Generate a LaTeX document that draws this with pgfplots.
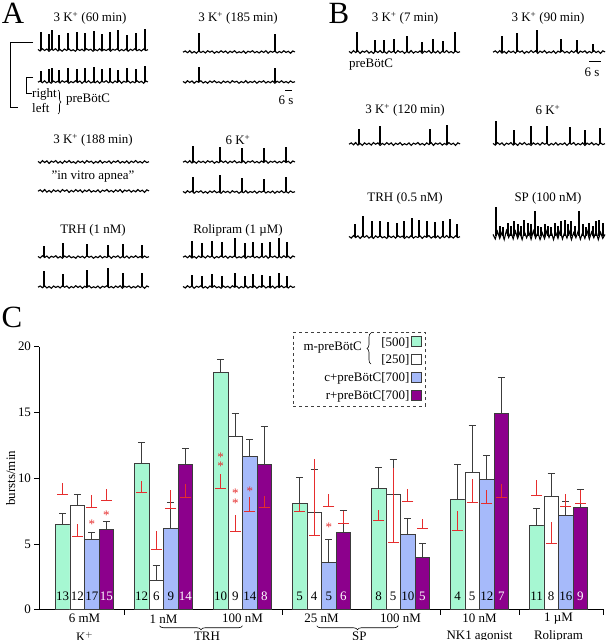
\documentclass[border=0pt]{standalone}
\usepackage{pgfplots}
\pgfplotsset{compat=1.18}
\usepackage{pgfplotstable}
\usepackage{fontspec}
\setmainfont{Liberation Serif}
\usetikzlibrary{decorations.pathreplacing}

\definecolor{cgreen}{RGB}{166,247,210}
\definecolor{cblue}{RGB}{166,186,250}
\definecolor{cpurple}{RGB}{140,0,140}
\definecolor{cred}{RGB}{230,45,45}
\definecolor{cedge}{RGB}{60,60,60}

\pgfplotstableread{
x y
0 0.02
0.02 -0.04
0.04 0.05
0.06 -0.02
0.08 0.04
0.10 -0.05
0.12 0.03
0.14 -0.01
0.16 0.05
0.18 -0.04
0.20 0.02
0.22 -0.05
0.24 0.04
0.26 -0.02
0.28 0.05
0.30 -0.03
0.32 0.01
0.34 -0.05
0.36 0.04
0.38 -0.02
0.40 0.03
0.42 -0.04
0.44 0.05
0.46 -0.01
0.48 0.03
0.50 -0.05
0.52 0.02
0.54 -0.03
0.56 0.05
0.58 -0.04
0.60 0.02
0.62 -0.02
0.64 0.04
0.66 -0.05
0.68 0.03
0.70 -0.01
0.72 0.05
0.74 -0.04
0.76 0.02
0.78 -0.03
0.80 0.04
0.82 -0.05
0.84 0.03
0.86 -0.02
0.88 0.05
0.90 -0.03
0.92 0.02
0.94 -0.04
0.96 0.04
0.98 -0.02
1.00 0.01
}\noiseA

\pgfplotstableread{
x y
0 -0.01
0.02 0.04
0.04 -0.03
0.06 0.05
0.08 -0.04
0.10 0.02
0.12 -0.05
0.14 0.04
0.16 -0.02
0.18 0.03
0.20 -0.04
0.22 0.05
0.24 -0.01
0.26 0.04
0.28 -0.05
0.30 0.02
0.32 -0.03
0.34 0.05
0.36 -0.02
0.38 0.04
0.40 -0.05
0.42 0.03
0.44 -0.02
0.46 0.05
0.48 -0.04
0.50 0.01
0.52 -0.03
0.54 0.04
0.56 -0.05
0.58 0.03
0.60 -0.01
0.62 0.05
0.64 -0.03
0.66 0.02
0.68 -0.04
0.70 0.04
0.72 -0.02
0.74 0.05
0.76 -0.05
0.78 0.03
0.80 -0.01
0.82 0.04
0.84 -0.04
0.86 0.02
0.88 -0.03
0.90 0.05
0.92 -0.02
0.94 0.03
0.96 -0.05
0.98 0.04
1.00 0.00
}\noiseB

\pgfplotstableread{
x y
0 0.05
0.02 -0.10
0.04 0.15
0.06 -0.08
0.08 0.12
0.10 -0.12
0.12 0.18
0.14 -0.05
0.16 0.14
0.18 -0.10
0.20 0.16
0.22 -0.08
0.24 0.12
0.26 -0.12
0.28 0.15
0.30 -0.06
0.32 0.13
0.34 -0.11
0.36 0.17
0.38 -0.07
0.40 0.12
0.42 -0.12
0.44 0.10
0.46 -0.09
0.48 0.16
0.50 -0.05
0.52 0.14
0.54 -0.12
0.56 0.12
0.58 -0.08
0.60 0.18
0.62 -0.10
0.64 0.13
0.66 -0.07
0.68 0.15
0.70 -0.12
0.72 0.11
0.74 -0.06
0.76 0.16
0.78 -0.11
0.80 0.12
0.82 -0.08
0.84 0.17
0.86 -0.10
0.88 0.13
0.90 -0.06
0.92 0.15
0.94 -0.12
0.96 0.12
0.98 -0.08
1.00 0.05
}\noiseC

\pgfplotsset{
  invis/.style={only marks, mark=*, mark size=0.1bp, mark options={draw opacity=0, fill opacity=0}},
  tr/.style={black, line width=1.1bp, mark=none},
  sp/.style={invis, error bars/y dir=plus, error bars/y explicit, error bars/error mark=none,
    error bars/error bar style={black, solid, line width=1.1bp}},
  boxlegend/.style={legend image code/.code={\draw[##1, solid, draw=cedge, line width=0.8bp] (0bp,-4.5bp) rectangle (10bp,5.5bp);}},
  mybar/.style={ybar, bar width=0.184, draw=cedge, line width=0.8bp, boxlegend},
  myerr/.style={forget plot, invis, error bars/y dir=plus, error bars/y explicit,
    error bars/error bar style={cedge, line width=0.8bp},
    error bars/error mark options={rotate=90, cedge, mark size=3.5bp, line width=0.8bp}}}

% noise line: #1 x0, #2 width, #3 baseline, #4 table, #5 amplitude
\newcommand{\nz}[5]{\addplot[tr] table[x expr={#1+#2*\thisrow{x}}, y expr={#3+#5*\thisrow{y}}] {#4};}
\newcommand{\nl}[2]{\node[inner sep=0pt] at (axis cs:#1,1.05) {#2};}
\newcommand{\nlw}[2]{\node[inner sep=0pt, text=white] at (axis cs:#1,1.05) {#2};}
\newcommand{\astk}[2]{\node[inner sep=0pt, text=cred, yshift=-2.5bp] at (axis cs:#1,#2) {*};}

\begin{document}
\begin{tikzpicture}[x=1bp, y=1bp, font=\fontsize{13}{15}\selectfont]
\path[use as bounding box] (0,0) rectangle (606,640);

% ---------------- Traces of panels A and B (one overlay axis in picture units) ----------------
\begin{axis}[hide axis, scale only axis, width=606bp, height=640bp, xmin=0, xmax=606, ymin=0, ymax=640,
  at={(0,0)}, anchor=south west, clip=false]
% A: 3 K+ (60 min)
\nz{38}{110}{590}{\noiseA}{25}
\addplot[sp] coordinates {(41,590) +- (0,18) (49,590) +- (0,16) (52,590) +- (0,20) (59,590) +- (0,15) (68,590) +- (0,17) (77,590) +- (0,18) (85,590) +- (0,17) (94,590) +- (0,19) (102,590) +- (0,16) (110,590) +- (0,18) (118,590) +- (0,20) (127,590) +- (0,15) (136,590) +- (0,17) (145,590) +- (0,21)};
\nz{38}{110}{558}{\noiseB}{25}
\addplot[sp] coordinates {(41,558) +- (0,11) (49,558) +- (0,13) (52,558) +- (0,14) (59,558) +- (0,12) (68,558) +- (0,14) (77,558) +- (0,13) (85,558) +- (0,14) (94,558) +- (0,15) (102,558) +- (0,13) (110,558) +- (0,14) (118,558) +- (0,12) (127,558) +- (0,14) (136,558) +- (0,13) (145,558) +- (0,16)};
% A: 3 K+ (185 min)
\nz{183}{112}{588}{\noiseB}{25}
\addplot[sp] coordinates {(199,588) +- (0,19) (275,588) +- (0,18)};
\nz{183}{112}{558}{\noiseA}{25}
\addplot[sp] coordinates {(199,558) +- (0,15) (275,558) +- (0,14)};
% A: 3 K+ (188 min), apnea
\nz{38}{111}{478}{\noiseA}{28}
\nz{38}{111}{449}{\noiseB}{28}
% A: 6 K+
\nz{183}{112}{478}{\noiseB}{25}
\addplot[sp] coordinates {(193,478) +- (0,16) (220,478) +- (0,15) (242,478) +- (0,14) (264,478) +- (0,14) (286,478) +- (0,15)};
\nz{183}{112}{448}{\noiseA}{25}
\addplot[sp] coordinates {(193,448) +- (0,15) (220,448) +- (0,17) (242,448) +- (0,14) (264,448) +- (0,13) (286,448) +- (0,15)};
% A: TRH (1 nM)
\nz{38}{111}{383}{\noiseA}{25}
\addplot[sp] coordinates {(44,383) +- (0,11) (63,383) +- (0,14) (87,383) +- (0,13) (108,383) +- (0,12) (123,383) +- (0,13) (142,383) +- (0,12)};
\nz{38}{111}{353}{\noiseB}{25}
\addplot[sp] coordinates {(44,353) +- (0,16) (63,353) +- (0,13) (87,353) +- (0,17) (108,353) +- (0,19) (123,353) +- (0,14) (142,353) +- (0,14)};
% A: Rolipram (1 uM)
\nz{183}{112}{383}{\noiseB}{25}
\addplot[sp] coordinates {(192,383) +- (0,16) (202,383) +- (0,14) (212,383) +- (0,16) (222,383) +- (0,15) (235,383) +- (0,19) (245,383) +- (0,14) (253,383) +- (0,15) (262,383) +- (0,14) (270,383) +- (0,15) (279,383) +- (0,19) (287,383) +- (0,15)};
\nz{183}{112}{353}{\noiseA}{25}
\addplot[sp] coordinates {(192,353) +- (0,12) (202,353) +- (0,11) (212,353) +- (0,13) (222,353) +- (0,11) (235,353) +- (0,14) (245,353) +- (0,11) (253,353) +- (0,13) (262,353) +- (0,12) (270,353) +- (0,11) (279,353) +- (0,14) (287,353) +- (0,11)};
% B: 3 K+ (7 min)
\nz{349}{111}{588}{\noiseA}{28}
\addplot[sp] coordinates {(357,588) +- (0,20) (375,588) +- (0,12) (384,588) +- (0,12) (394,588) +- (0,13) (407,588) +- (0,16) (422,588) +- (0,10) (433,588) +- (0,13) (443,588) +- (0,11) (455,588) +- (0,20)};
% B: 3 K+ (90 min)
\nz{493}{112}{588}{\noiseB}{28}
\addplot[sp] coordinates {(502,588) +- (0,16) (517,588) +- (0,19) (537,588) +- (0,22) (561,588) +- (0,13) (577,588) +- (0,12) (593,588) +- (0,8)};
% B: 3 K+ (120 min)
\nz{349}{111}{496}{\noiseB}{28}
\addplot[sp] coordinates {(359,496) +- (0,15) (380,496) +- (0,18) (430,496) +- (0,15) (447,496) +- (0,19)};
% B: 6 K+
\nz{493}{112}{496}{\noiseA}{28}
\addplot[sp] coordinates {(496,496) +- (0,23) (514,496) +- (0,14) (531,496) +- (0,18) (547,496) +- (0,18) (570,496) +- (0,17) (585,496) +- (0,14) (600,496) +- (0,16)};
% B: TRH (0.5 nM)
\nz{349}{111}{403}{\noiseA}{28}
\addplot[sp] coordinates {(355,403) +- (0,13) (363,403) +- (0,21) (372,403) +- (0,16) (380,403) +- (0,16) (388,403) +- (0,15) (397,403) +- (0,14) (404,403) +- (0,16) (412,403) +- (0,19) (419,403) +- (0,17) (427,403) +- (0,16) (435,403) +- (0,15) (443,403) +- (0,16) (450,403) +- (0,18) (457,403) +- (0,13)};
% B: SP (100 nM)
\nz{493}{112}{404}{\noiseC}{30}
\addplot[sp] coordinates {(496,404) +- (0,29) (500,404) +- (0,10) (503,404) +- (0,9) (508,404) +- (0,13) (511,404) +- (0,10) (514,404) +- (0,15) (518,404) +- (0,12) (521,404) +- (0,10) (524,404) +- (0,16) (528,404) +- (0,13) (531,404) +- (0,12) (535,404) +- (0,25) (538,404) +- (0,10) (541,404) +- (0,9) (545,404) +- (0,12) (548,404) +- (0,10) (551,404) +- (0,9) (555,404) +- (0,13) (558,404) +- (0,10) (561,404) +- (0,15) (565,404) +- (0,16) (568,404) +- (0,12) (571,404) +- (0,15) (575,404) +- (0,10) (579,404) +- (0,25) (583,404) +- (0,12) (586,404) +- (0,9) (589,404) +- (0,13) (593,404) +- (0,10) (596,404) +- (0,15) (599,404) +- (0,16) (603,404) +- (0,13)};
\end{axis}

% ---------------- Panel A texts ----------------
\node[font=\fontsize{31}{33}\selectfont, inner sep=0] at (13,627) {A};
\node at (90,622) {3 K\textsuperscript{+} (60 min)};
\node at (238,622) {3 K\textsuperscript{+} (185 min)};
\draw[line width=0.8bp] (285,550) -- (292,550);
\node at (286,540) {6 s};
\draw[line width=0.8bp] (33,598) -- (10,598) -- (10,533) -- (18,533);
\draw[line width=0.8bp] (33,563) -- (26,563) -- (26,547) -- (32,547);
\node[anchor=west, inner sep=0] at (32,546) {right};
\node[anchor=west, inner sep=0] at (32,532) {left};
\draw[line width=0.6bp, decorate, decoration={brace, amplitude=3bp}] (58,550) -- (58,526);
\node[anchor=west, inner sep=0] at (66,540) {preBötC};
\node at (93,500) {3 K\textsuperscript{+} (188 min)};
\node at (93,463) {"in vitro apnea"};
\node at (238,500) {6 K\textsuperscript{+}};
\node at (93,410) {TRH (1 nM)};
\node at (238,410) {Rolipram (1 µM)};

% ---------------- Panel B texts ----------------
\node[font=\fontsize{31}{33}\selectfont, inner sep=0] at (339,627) {B};
\node at (405,622) {3 K\textsuperscript{+} (7 min)};
\node at (548,622) {3 K\textsuperscript{+} (90 min)};
\node[anchor=west, inner sep=0] at (349,575) {preBötC};
\draw[line width=0.8bp] (589,579) -- (601,579);
\node at (592,568) {6 s};
\node at (405,530) {3 K\textsuperscript{+} (120 min)};
\node at (548,530) {6 K\textsuperscript{+}};
\node at (405,442) {TRH (0.5 nM)};
\node at (548,442) {SP (100 nM)};

% ---------------- Panel C ----------------
\node[font=\fontsize{31}{33}\selectfont, inner sep=0] at (12,323) {C};
\begin{axis}[
  at={(50,23)}, anchor=south west, scale only axis,
  width=564bp, height=263bp,
  xmin=-0.57, xmax=6.57, ymin=0, ymax=20,
  axis x line=bottom, axis y line=left,
  axis line style={-, black, line width=0.8bp},
  xtick={0.5,2.5,4.5,5.5,6.57}, xticklabels={},
  ytick={0,5,10,15,20},
  tick align=outside, major tick length=5bp,
  every tick/.style={black, line width=0.8bp},
  /pgf/number format/assume math mode=true,
  yticklabel style={font=\fontsize{13}{15}\selectfont},
  clip=false,
  legend cell align=right,
  legend plot pos=right,
  legend style={at={(0.6844,1.057)}, anchor=north east, draw=black!75, dashed, line width=0.8bp, fill=white, font=\fontsize{13}{15}\selectfont, row sep=3.3bp, inner xsep=3bp, inner ysep=3bp},
]
\addplot[mybar, bar shift=-0.276, fill=cgreen]
  coordinates {(0,6.49) (1,11.15) (2,18.07) (3,8.11) (4,9.25) (5,8.37) (6,6.41)};
\addlegendentry{\makebox[111bp][r]{[500]}}
\addplot[mybar, bar shift=-0.092, fill=white]
  coordinates {(0,7.96) (1,2.26) (2,13.21) (3,7.40) (4,8.80) (5,10.44) (6,8.64)};
\addlegendentry{\makebox[111bp][r]{[250]}}
\addplot[mybar, bar shift=0.092, fill=cblue]
  coordinates {(0,5.37) (1,6.21) (2,11.66) (3,3.57) (4,5.75) (5,9.89) (6,7.17)};
\addlegendentry{\makebox[111bp][r]{c+preBötC[700]}}
\addplot[mybar, bar shift=0.276, fill=cpurple]
  coordinates {(0,6.08) (1,11.05) (2,11.05) (3,5.91) (4,3.98) (5,14.93) (6,7.81)};
\addlegendentry{\makebox[111bp][r]{r+preBötC[700]}}

% error bars (SEM) of the bars
\addplot[myerr] coordinates {(-0.276,6.49) +- (0,0.81) (0.724,11.15) +- (0,1.55) (1.724,18.07) +- (0,0.96) (2.724,8.11) +- (0,1.93) (3.724,9.25) +- (0,1.55) (4.724,8.37) +- (0,2.66) (5.724,6.41) +- (0,1.32)};
\addplot[myerr] coordinates {(-0.092,7.96) +- (0,0.81) (0.908,2.26) +- (0,1.14) (1.908,13.21) +- (0,1.72) (2.908,7.40) +- (0,3.30) (3.908,8.80) +- (0,2.63) (4.908,10.44) +- (0,3.58) (5.908,8.64) +- (0,1.75)};
\addplot[myerr] coordinates {(0.092,5.37) +- (0,0.51) (1.092,6.21) +- (0,1.93) (2.092,11.66) +- (0,1.27) (3.092,3.57) +- (0,1.78) (4.092,5.75) +- (0,1.20) (5.092,9.89) +- (0,1.85) (6.092,7.17) +- (0,1.07)};
\addplot[myerr] coordinates {(0.276,6.08) +- (0,0.66) (1.276,11.05) +- (0,1.22) (2.276,11.05) +- (0,2.92) (3.276,5.91) +- (0,1.62) (4.276,3.98) +- (0,1.09) (5.276,14.93) +- (0,2.72) (6.276,7.81) +- (0,1.32)};

% control values (red)
\addplot[forget plot, only marks, mark=-, mark size=5.5bp, color=cred, line width=0.9bp,
  error bars/y dir=plus, error bars/y explicit, error bars/error mark=none, error bars/error bar style={cred, line width=0.9bp}]
  coordinates {
  (-0.276,8.77) +- (0,0.86) (-0.092,5.55) +- (0,0.99) (0.092,7.78) +- (0,0.97) (0.276,8.34) +- (0,0.86)
  (0.724,8.95) +- (0,0.81) (0.908,4.56) +- (0,1.40) (1.092,7.73) +- (0,1.40) (1.276,8.52) +- (0,1.06)
  (1.724,9.25) +- (0,1.09) (1.908,5.96) +- (0,1.21) (2.092,7.48) +- (0,1.09) (2.276,7.78) +- (0,0.86)
  (2.724,7.48) +- (0,0.53) (2.908,5.65) +- (0,5.78) (3.092,7.83) +- (0,0.99) (3.276,6.59) +- (0,0.89)
  (3.724,6.79) +- (0,0.81) (3.908,5.15) +- (0,5.65) (4.092,8.26) +- (0,0.94) (4.276,6.21) +- (0,0.71)
  (4.724,6.01) +- (0,1.47) (4.908,8.16) +- (0,1.75) (5.092,8.11) +- (0,0.96) (5.276,8.52) +- (0,1.06)
  (5.724,8.69) +- (0,1.15) (5.908,5.07) +- (0,1.60) (6.092,7.83) +- (0,0.99) (6.276,8.06) +- (0,1.07)
  };

% asterisks
\astk{0.092}{6.72}
\astk{0.276}{7.40}
\astk{1.724}{11.8}
\astk{1.724}{11.1}
\astk{1.908}{9.02}
\astk{1.908}{8.26}
\astk{2.092}{9.18}
\astk{3.092}{6.46}

% n labels
\nl{-0.276}{13}\nl{-0.092}{12}\nl{0.092}{17}\nlw{0.276}{15}
\nl{0.724}{12}\nl{0.908}{6}\nl{1.092}{9}\nlw{1.276}{14}
\nl{1.724}{10}\nl{1.908}{9}\nl{2.092}{14}\nlw{2.276}{8}
\nl{2.724}{5}\nl{2.908}{4}\nl{3.092}{5}\nlw{3.276}{6}
\nl{3.724}{8}\nl{3.908}{5}\nl{4.092}{10}\nlw{4.276}{5}
\nl{4.724}{4}\nl{4.908}{5}\nl{5.092}{12}\nlw{5.276}{7}
\nl{5.724}{11}\nl{5.908}{8}\nl{6.092}{16}\nlw{6.276}{9}

% y label
\node[rotate=90, inner sep=0pt] at (axis description cs:-0.051,0.5) {bursts/min};

% category labels
\node[yshift=-9bp] at (axis cs:0,0) {6 mM};
\node[yshift=-9bp] at (axis cs:1,0) {1 nM};
\node[yshift=-9bp] at (axis cs:2,0) {100 nM};
\node[yshift=-9bp] at (axis cs:3,0) {25 nM};
\node[yshift=-9bp] at (axis cs:4,0) {100 nM};
\node[yshift=-9bp] at (axis cs:5,0) {10 nM};
\node[yshift=-9bp] at (axis cs:6,0) {1 µM};
\node[yshift=-27bp] at (axis cs:0,0) {K$^+$};
\node[yshift=-27bp] at (axis cs:1.55,0) {TRH};
\node[yshift=-27bp] at (axis cs:3.48,0) {SP};
\node[yshift=-27bp] at (axis cs:5,0) {NK1 agonist};
\node[yshift=-27bp] at (axis cs:6,0) {Rolipram};
\draw[line width=0.6bp, decorate, decoration={brace, amplitude=4bp, mirror}] ([yshift=-16bp]axis cs:0.95,0) -- ([yshift=-16bp]axis cs:2.0,0);
\draw[line width=0.6bp, decorate, decoration={brace, amplitude=4bp, mirror}] ([yshift=-16bp]axis cs:2.94,0) -- ([yshift=-16bp]axis cs:3.97,0);
\end{axis}

% legend label for m-preBötC
\node[anchor=east, inner sep=0] at (362,292) {m-preBötC};
\draw[line width=0.6bp, decorate, decoration={brace, amplitude=4bp}] (371,276) -- (371,307);
\end{tikzpicture}
\end{document}
